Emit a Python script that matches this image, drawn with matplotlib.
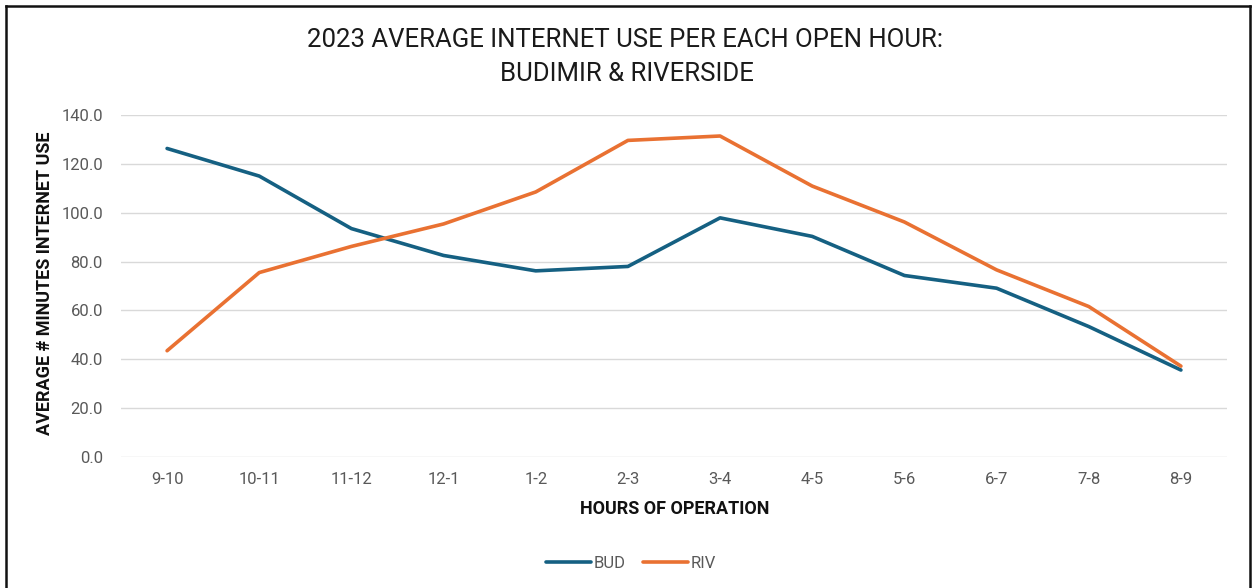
import matplotlib
matplotlib.use("Agg")
import matplotlib.pyplot as plt
from matplotlib.lines import Line2D

# Hourly averages of internet use (minutes) per open hour, 2023
hours = ["9-10", "10-11", "11-12", "12-1", "1-2", "2-3", "3-4", "4-5", "5-6", "6-7", "7-8", "8-9"]
bud = [126.3, 115.0, 93.5, 82.5, 76.2, 78.0, 97.9, 90.3, 74.3, 69.1, 53.4, 35.6]
riv = [43.5, 75.5, 86.2, 95.4, 108.5, 129.6, 131.4, 110.9, 96.2, 76.6, 61.6, 37.2]
y_ticks = [0, 20, 40, 60, 80, 100, 120, 140]

BUD_COLOR = "#156082"
RIV_COLOR = "#E97132"
GRID_COLOR = "#D9D9D9"
TICK_COLOR = "#595959"

plt.rcParams["font.family"] = ["Roboto", "DejaVu Sans"]

W, H = 1257, 588
fig = plt.figure(figsize=(W / 100, H / 100), dpi=100)
fig.patch.set_facecolor("white")

left, right, top, bottom = 121, 1227, 115, 457
ax = fig.add_axes([left / W, 1 - bottom / H, (right - left) / W, (bottom - top) / H])

x = list(range(len(hours)))
ax.plot(x, bud, color=BUD_COLOR, lw=2.6, solid_capstyle="round", solid_joinstyle="round", label="BUD", zorder=3)
ax.plot(x, riv, color=RIV_COLOR, lw=2.6, solid_capstyle="round", solid_joinstyle="round", label="RIV", zorder=3)

ax.set_xlim(-0.5, len(hours) - 0.5)
ax.set_ylim(0, 140)
ax.set_yticks(y_ticks)
ax.set_yticklabels([f"{v:.1f}" for v in y_ticks])
ax.set_xticks(x)
ax.set_xticklabels(hours)
ax.tick_params(axis="both", length=0, labelsize=12, labelcolor=TICK_COLOR)
ax.tick_params(axis="y", pad=13)
ax.tick_params(axis="x", pad=11)
ax.grid(axis="y", color=GRID_COLOR, lw=1.0, zorder=0)
for s in ax.spines.values():
    s.set_visible(False)

# Titles and axis labels
fig.text(625 / W, 1 - 40 / H, "2023 AVERAGE INTERNET USE PER EACH OPEN HOUR:",
         ha="center", va="center", fontsize=18.5, color="#1a1a1a")
fig.text(627 / W, 1 - 74 / H, "BUDIMIR & RIVERSIDE",
         ha="center", va="center", fontsize=18.5, color="#1a1a1a")
fig.text(675 / W, 1 - 509 / H, "HOURS OF OPERATION",
         ha="center", va="center", fontsize=13, fontweight="bold", color="#111111")
fig.text(45 / W, 1 - 283 / H, "AVERAGE # MINUTES INTERNET USE",
         ha="center", va="center", rotation=90, fontsize=13, fontweight="bold", color="#111111")

leg = fig.legend(loc="center", bbox_to_anchor=(631 / W, 1 - 563 / H), ncol=2, frameon=False,
                 fontsize=12, handlelength=2.7, handletextpad=0.15, columnspacing=1.1)
for t in leg.get_texts():
    t.set_color(TICK_COLOR)

# Outer frame (open at the bottom)
for xs, ys in [((6, 6), (H, 6)), ((6, 1250), (6, 6)), ((1250, 1250), (6, H))]:
    fig.add_artist(Line2D([v / W for v in xs], [1 - v / H for v in ys],
                          color="#111111", lw=1.8, transform=fig.transFigure))

fig.savefig("out.png", dpi=100, facecolor="white")
